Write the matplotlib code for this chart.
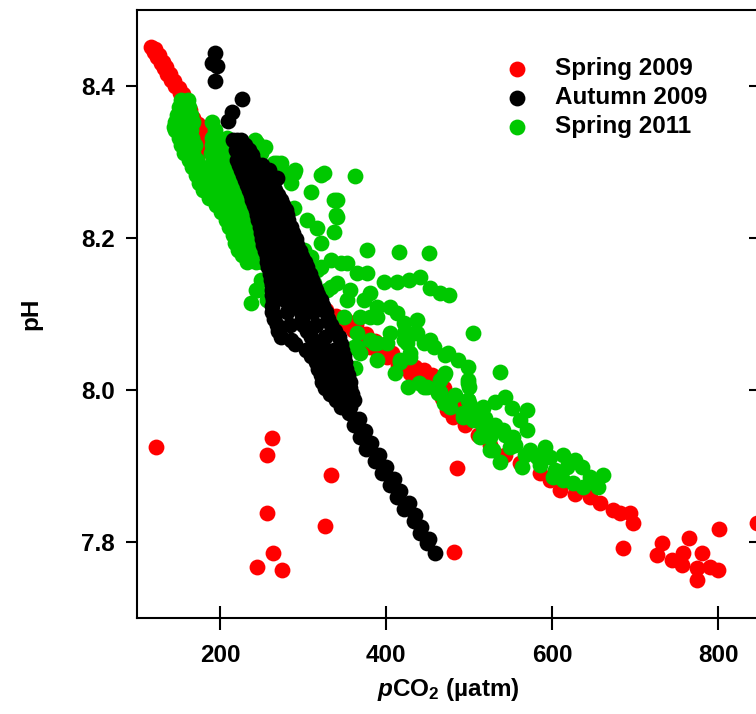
import matplotlib
matplotlib.use('Agg')
import matplotlib.pyplot as plt

plt.rcParams['font.family'] = ['Liberation Sans', 'DejaVu Sans']
plt.rcParams['font.weight'] = 'bold'
plt.rcParams['mathtext.fontset'] = 'custom'
plt.rcParams['mathtext.rm'] = 'Liberation Sans:bold'
plt.rcParams['mathtext.it'] = 'Liberation Sans:bold:italic'
plt.rcParams['mathtext.bf'] = 'Liberation Sans:bold'

# Spring 2009 (pCO2 in uatm, pH)
spring09_pco2 = [116.8, 120.4, 124.0, 128.8, 132.4, 136.0, 140.8, 145.6, 151.6, 156.4,
                 160.0, 164.8, 169.6, 173.2, 175.6, 176.8, 182.9, 191.3, 200.9, 209.3,
                 218.9, 230.9, 242.9, 254.9, 266.9, 279.0, 291.0, 303.0, 315.0, 327.0,
                 336.6, 348.6, 360.6, 371.4, 381.0, 390.7, 401.5, 414.7, 429.1, 441.1,
                 449.5, 456.7, 461.5, 467.5, 473.5, 480.7, 495.2, 510.8, 525.2, 543.2,
                 561.2, 585.2, 597.3, 609.3, 627.3, 645.3, 657.3, 673.0, 681.4, 693.4,
                 697.0, 685.0, 725.8, 731.8, 743.8, 757.0, 755.8, 764.2, 773.8, 779.9,
                 773.8, 789.5, 799.1, 800.3, 845.9,
                 122, 126, 131, 135, 140, 145, 150, 155, 160, 164, 168, 173, 178, 181, 186,
                 340, 352, 364, 376, 386, 396, 407, 420, 435, 446, 455, 463, 470, 476, 485,
                 123, 263, 256, 334, 257, 326, 264, 244, 274, 485, 482]
spring09_ph = [8.451, 8.445, 8.438, 8.430, 8.424, 8.416, 8.408, 8.400, 8.391, 8.382,
               8.371, 8.359, 8.350, 8.342, 8.329, 8.316, 8.316, 8.305, 8.296, 8.289,
               8.274, 8.257, 8.237, 8.217, 8.197, 8.178, 8.158, 8.138, 8.121, 8.105,
               8.092, 8.086, 8.079, 8.068, 8.057, 8.050, 8.043, 8.033, 8.022, 8.018,
               8.017, 8.009, 8.000, 7.990, 7.974, 7.965, 7.954, 7.941, 7.928, 7.915,
               7.904, 7.891, 7.882, 7.868, 7.863, 7.859, 7.851, 7.842, 7.838, 7.838,
               7.825, 7.792, 7.783, 7.799, 7.776, 7.786, 7.770, 7.805, 7.766, 7.786,
               7.750, 7.767, 7.763, 7.817, 7.825,
               8.449, 8.441, 8.432, 8.425, 8.416, 8.407, 8.398, 8.389, 8.380, 8.369,
               8.358, 8.350, 8.340, 8.330, 8.320,
               8.098, 8.092, 8.085, 8.074, 8.064, 8.056, 8.049, 8.038, 8.030, 8.026,
               8.020, 8.012, 8.003, 7.990, 7.977,
               7.925, 7.937, 7.914, 7.888, 7.838, 7.821, 7.786, 7.767, 7.763, 7.898, 7.787]

# Autumn 2009
autumn09_pco2 = [194, 190, 196, 194, 227, 214, 209,
                 215, 225, 219, 235, 220, 231, 240, 225, 243, 259, 230, 244, 261, 269,
                 235, 249, 266, 239, 255, 273, 243, 261, 279, 246, 263, 282,
                 249, 267, 288, 252, 273, 293, 256, 277, 299, 258, 281, 305,
                 261, 285, 311, 263, 287, 315, 264, 292, 321, 263, 297, 327,
                 268, 300, 333, 273, 285, 309, 343, 303, 327, 347, 315, 335, 351,
                 321, 345, 354, 326, 345, 357, 339, 351, 361,
                 355, 361, 368, 376, 386, 395, 405, 413, 422, 433, 441, 449, 459,
                 367, 374, 382, 391, 400, 409, 417, 427, 435, 442, 451,
                 222, 230, 228, 238, 223, 236, 250, 228, 244, 260, 232, 247, 264,
                 237, 252, 270, 241, 258, 276, 244, 262, 281, 248, 265, 285,
                 250, 270, 291, 254, 275, 296, 257, 279, 302, 260, 283, 308,
                 262, 286, 313, 263, 290, 318, 263, 295, 324, 265, 299, 330,
                 270, 305, 338, 290, 318, 345, 309, 331, 349, 318, 340, 352,
                 323, 345, 356, 332, 348, 359, 345, 356,
                 220, 227, 225, 235, 234, 251, 237, 252, 242, 257, 247, 264,
                 252, 270, 254, 272, 258, 277, 262, 283, 266, 288, 269, 293,
                 273, 298, 275, 301, 278, 306, 280, 312, 284, 316, 326,
                 315, 337, 325, 343, 333, 350, 335, 351, 345, 356]
autumn09_ph = [8.444, 8.430, 8.426, 8.407, 8.383, 8.366, 8.354,
               8.329, 8.329, 8.316, 8.316, 8.303, 8.303, 8.303, 8.290, 8.290, 8.290,
               8.276, 8.276, 8.276, 8.279,
               8.263, 8.263, 8.263, 8.250, 8.250, 8.250, 8.237, 8.237, 8.237,
               8.224, 8.224, 8.224,
               8.207, 8.207, 8.207, 8.191, 8.191, 8.191, 8.175, 8.175, 8.175,
               8.162, 8.162, 8.162,
               8.145, 8.145, 8.145, 8.132, 8.132, 8.132, 8.118, 8.118, 8.118,
               8.103, 8.103, 8.103,
               8.086, 8.086, 8.086, 8.070, 8.066, 8.070, 8.070, 8.053, 8.053, 8.053,
               8.037, 8.037, 8.037,
               8.020, 8.020, 8.020, 8.003, 8.003, 8.003, 7.987, 7.987, 7.987,
               7.970, 7.954, 7.938, 7.922, 7.907, 7.891, 7.875, 7.859, 7.843, 7.828,
               7.812, 7.799, 7.786,
               7.962, 7.946, 7.930, 7.915, 7.899, 7.883, 7.867, 7.851, 7.836, 7.820, 7.804,
               8.322, 8.322, 8.309, 8.309, 8.296, 8.296, 8.296, 8.283, 8.283, 8.283,
               8.270, 8.270, 8.270,
               8.256, 8.256, 8.256, 8.243, 8.243, 8.243, 8.230, 8.230, 8.230,
               8.215, 8.215, 8.215,
               8.199, 8.199, 8.199, 8.183, 8.183, 8.183, 8.168, 8.168, 8.168,
               8.153, 8.153, 8.153,
               8.138, 8.138, 8.138, 8.125, 8.125, 8.125, 8.110, 8.110, 8.110,
               8.094, 8.094, 8.094,
               8.078, 8.078, 8.078, 8.061, 8.061, 8.061, 8.045, 8.045, 8.045,
               8.028, 8.028, 8.028,
               8.011, 8.011, 8.011, 7.995, 7.995, 7.995, 7.978, 7.978,
               8.329, 8.316, 8.303, 8.303, 8.290, 8.290, 8.276, 8.276, 8.263, 8.263,
               8.250, 8.250,
               8.237, 8.237, 8.224, 8.224, 8.207, 8.207, 8.191, 8.191, 8.175, 8.175,
               8.162, 8.162,
               8.145, 8.145, 8.132, 8.132, 8.118, 8.118, 8.103, 8.103, 8.086, 8.086,
               8.070,
               8.053, 8.053, 8.037, 8.037, 8.020, 8.020, 8.003, 8.003, 7.987, 7.987]

# Spring 2011
spring11_pco2 = [153, 161, 148, 158, 165, 144, 146, 155, 165, 194,
                 153, 162, 170, 190, 198, 206, 213, 162, 172, 192, 201, 211, 220,
                 171, 180, 190, 200, 209, 219, 228, 180, 190, 200, 209, 219, 228, 237,
                 195, 203, 213, 222, 232, 242, 207, 215, 225, 234, 244,
                 215, 225, 234, 244, 251, 221, 231, 241, 250, 233, 243, 251,
                 249, 243, 237, 257, 245,
                 242, 254, 269, 278, 290, 285, 206, 245, 265,
                 249, 273, 289, 325, 321, 363, 309, 289, 337, 341, 305, 341, 339, 337,
                 317, 321, 297, 333, 321, 313, 329, 321, 309, 377, 415, 451, 345, 365,
                 377, 397, 413, 427, 441, 453, 465, 475, 437, 505, 333, 353, 373, 389,
                 405, 413, 381, 365, 389, 421, 453, 301, 353, 317, 341, 357, 381, 389,
                 369, 349, 421, 437, 421, 405, 381, 445, 457, 474, 486, 498, 498, 469,
                 429, 417, 389, 369, 361, 411, 363, 426, 445, 462, 477, 493, 469, 477,
                 365, 385, 401, 425, 433, 499, 417, 429, 471, 439, 449, 465, 498, 510,
                 517, 517, 525, 525,
                 471, 500, 537, 465, 499, 517, 531, 543, 552, 570, 561, 570, 493, 505,
                 525, 541, 513, 553, 529, 549, 573, 591, 537, 564, 582, 597, 613, 627,
                 636, 618, 601, 613, 625, 645, 655, 661, 637,
                 465, 483, 501, 519, 531, 543, 555, 567, 585, 603,
                 150, 158, 163, 146, 153, 160, 168, 190,
                 150, 158, 166, 190, 198, 208, 157, 167, 189, 197, 207, 216,
                 166, 176, 186, 196, 206, 215, 224, 175, 185, 195, 205, 214, 224, 232,
                 187, 196, 205, 214, 224, 233, 240, 201, 209, 219, 228, 238,
                 211, 220, 230, 239, 247, 218, 228, 238, 247, 227, 236, 246]
spring11_ph = [8.382, 8.382, 8.362, 8.362, 8.362, 8.346, 8.342, 8.342, 8.342, 8.342,
               8.322, 8.322, 8.322, 8.322, 8.322, 8.322, 8.322,
               8.303, 8.303, 8.303, 8.303, 8.303, 8.303,
               8.283, 8.283, 8.283, 8.283, 8.283, 8.283, 8.283,
               8.263, 8.263, 8.263, 8.263, 8.263, 8.263, 8.263,
               8.243, 8.243, 8.243, 8.243, 8.243, 8.243,
               8.224, 8.224, 8.224, 8.224, 8.224,
               8.204, 8.204, 8.204, 8.204, 8.204,
               8.184, 8.184, 8.184, 8.184, 8.169, 8.169, 8.169,
               8.145, 8.132, 8.115, 8.118, 8.132,
               8.329, 8.320, 8.299, 8.286, 8.290, 8.272, 8.316, 8.325, 8.299,
               8.312, 8.299, 8.286, 8.286, 8.283, 8.282, 8.261, 8.240, 8.250, 8.250,
               8.224, 8.228, 8.230, 8.208,
               8.213, 8.194, 8.175, 8.171, 8.162, 8.141, 8.132, 8.115, 8.175, 8.184,
               8.182, 8.180, 8.167, 8.154,
               8.154, 8.142, 8.142, 8.145, 8.149, 8.134, 8.128, 8.125, 8.092, 8.075,
               8.136, 8.118, 8.118, 8.109,
               8.109, 8.101, 8.096, 8.075, 8.062, 8.075, 8.066, 8.184, 8.167, 8.158,
               8.141, 8.132, 8.128, 8.096,
               8.096, 8.096, 8.088, 8.075, 8.066, 8.075, 8.066, 8.062, 8.057, 8.049,
               8.040, 8.030, 8.009, 8.020,
               8.043, 8.040, 8.040, 8.049, 8.057, 8.022, 8.029, 8.004, 8.004, 7.996,
               7.987, 7.964, 7.983, 7.978,
               8.057, 8.062, 8.062, 8.062, 8.075, 8.013, 8.037, 8.049, 8.022, 8.009,
               8.004, 7.996, 7.987, 7.970,
               7.978, 7.951, 7.938, 7.921,
               8.046, 8.004, 8.024, 7.997, 7.987, 7.976, 7.984, 7.991, 7.976, 7.974,
               7.961, 7.947, 7.970, 7.961,
               7.951, 7.947, 7.938, 7.938, 7.921, 7.925, 7.921, 7.925, 7.905, 7.899,
               7.912, 7.912, 7.915, 7.908,
               7.899, 7.899, 7.886, 7.882, 7.878, 7.886, 7.873, 7.888, 7.873,
               8.013, 7.993, 7.980, 7.963, 7.954, 7.941, 7.928, 7.915, 7.901, 7.895,
               8.372, 8.372, 8.372, 8.352, 8.352, 8.352, 8.352, 8.352,
               8.332, 8.332, 8.332, 8.332, 8.332, 8.332,
               8.312, 8.312, 8.312, 8.312, 8.312, 8.312,
               8.293, 8.293, 8.293, 8.293, 8.293, 8.293, 8.293,
               8.273, 8.273, 8.273, 8.273, 8.273, 8.273, 8.273,
               8.253, 8.253, 8.253, 8.253, 8.253, 8.253, 8.253,
               8.234, 8.234, 8.234, 8.234, 8.234,
               8.214, 8.214, 8.214, 8.214, 8.214, 8.194, 8.194, 8.194, 8.194,
               8.177, 8.177, 8.177]

fig = plt.figure(figsize=(7.56, 7.14), dpi=100)
ax = fig.add_axes([137 / 756, 96 / 714, 623 / 756, 608 / 714])

dot = 130
h1 = ax.scatter(spring09_pco2, spring09_ph, s=dot, c='#ff0000', linewidths=0, zorder=2)
h3 = ax.scatter(spring11_pco2, spring11_ph, s=dot, c='#00c800', linewidths=0, zorder=3)
h2 = ax.scatter(autumn09_pco2, autumn09_ph, s=dot, c='#000000', linewidths=0, zorder=4)

ax.set_xlim(100, 850)
ax.set_ylim(7.7, 8.5)
ax.set_xticks([200, 400, 600, 800])
ax.set_yticks([7.8, 8.0, 8.2, 8.4])
ax.set_yticklabels(['7.8', '8.0', '8.2', '8.4'])

for s in ax.spines.values():
    s.set_linewidth(1.5)
ax.tick_params(axis='x', direction='inout', length=17, width=1.5, pad=10, labelsize=17.5)
ax.tick_params(axis='y', direction='out', length=8, width=1.5, pad=8, labelsize=17.5,
               right=True)
# right-hand ticks point into the plot
for t in ax.yaxis.get_ticklines()[1::2]:
    t.set_marker(matplotlib.lines.TICKLEFT)

ax.set_xlabel('$p$CO$_2$ (µatm)', fontsize=17.5, fontweight='bold', labelpad=7)
ax.set_ylabel('pH', fontsize=17.5, fontweight='bold', labelpad=28)

ax.legend([h1, h2, h3], ['Spring 2009', 'Autumn 2009', 'Spring 2011'],
          loc='upper left', bbox_to_anchor=(0.552, 0.9585), frameon=False,
          fontsize=17.5, handletextpad=0.95, labelspacing=0.25, handlelength=1.2,
          markerscale=1.0)

fig.savefig('out.png', dpi=100)
